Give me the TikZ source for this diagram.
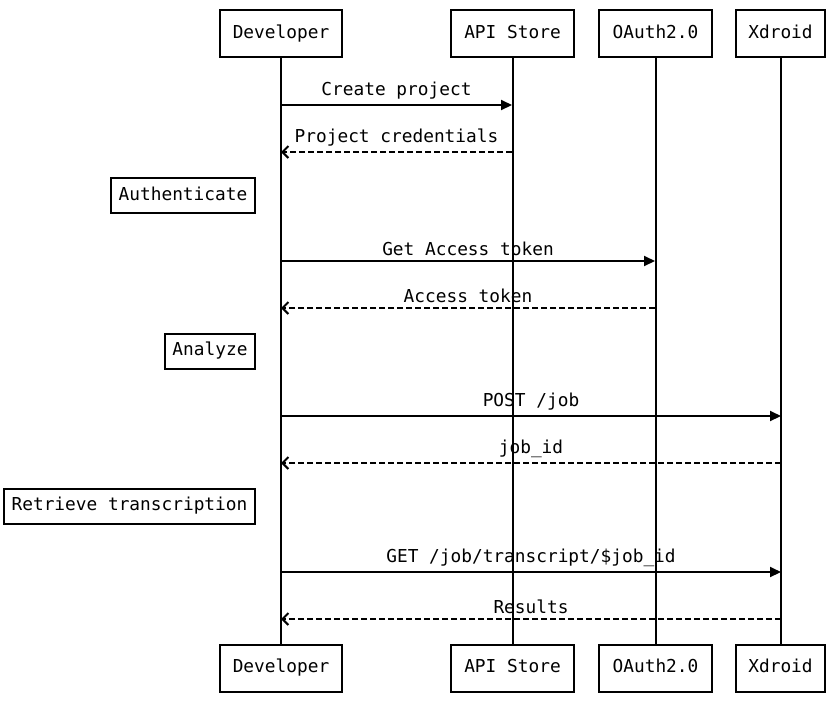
\documentclass[tikz,border=0pt]{standalone}
\usepackage{fontspec}
\setmonofont{DejaVu Sans Mono}
\usetikzlibrary{arrows.meta, positioning}

\tikzset{
  actor/.style={rectangle, draw, line width=2pt, minimum height=47pt, text height=12pt, text depth=3pt, font=\ttfamily\fontsize{17.8}{20}\selectfont},
  note/.style={rectangle, draw, line width=2pt, minimum height=35pt, text height=12pt, text depth=3pt, font=\ttfamily\fontsize{17.8}{20}\selectfont},
  lbl/.style={font=\ttfamily\fontsize{17.8}{20}\selectfont, above, inner sep=4.5pt},
  life/.style={line width=2pt},
  call/.style={line width=2pt, -{Triangle[length=11pt,width=10pt]}},
  reply/.style={line width=2pt, dash pattern=on 6pt off 3pt, -{Straight Barb[length=6pt,width=12pt]}}
}

\begin{document}
\begin{tikzpicture}[x=1pt, y=-1pt]
                \useasboundingbox (0,0) rectangle (837,702);
                % Participants
                \node (devT) [actor, minimum width=122pt] at (281,33.5) {Developer};
                \node (apiT) [actor, minimum width=123pt] at (512.5,33.5) {API Store};
                \node (oauT) [actor, minimum width=113pt] at (655.5,33.5) {OAuth2.0};
                \node (xdrT) [actor, minimum width=89pt] at (780.5,33.5) {Xdroid};
                \node (devB) [actor, minimum width=122pt] at (281,668) {Developer};
                \node (apiB) [actor, minimum width=123pt] at (512.5,668) {API Store};
                \node (oauB) [actor, minimum width=113pt] at (655.5,668) {OAuth2.0};
                \node (xdrB) [actor, minimum width=89pt] at (780.5,668) {Xdroid};

                % Lifelines
                \draw[life] (devT) -- (devB);
                \draw[life] (apiT) -- (apiB);
                \draw[life] (oauT) -- (oauB);
                \draw[life] (xdrT) -- (xdrB);

                % Notes
                \node (auth) [note, anchor=east, minimum width=144pt] at (256,195.5) {Authenticate};
                \node (anal) [note, anchor=east, minimum width=90pt] at (256,351) {Analyze};
                \node (retr) [note, anchor=east, minimum width=251pt] at (256,506) {Retrieve transcription};

                % Message points
                \coordinate (d1) at (281,105); \coordinate (a1) at (512,105);
                \coordinate (d2) at (281,152); \coordinate (a2) at (512,152);
                \coordinate (d3) at (281,261); \coordinate (o3) at (655,261);
                \coordinate (d4) at (281,308); \coordinate (o4) at (655,308);
                \coordinate (d5) at (281,416); \coordinate (x5) at (781,416);
                \coordinate (d6) at (281,463); \coordinate (x6) at (781,463);
                \coordinate (d7) at (281,572); \coordinate (x7) at (781,572);
                \coordinate (d8) at (281,619); \coordinate (x8) at (781,619);

                % Messages
                \draw[call] (d1) -- node[lbl] {Create project} (a1);
                \draw[reply] (a2) -- node[lbl] {Project credentials} (d2);
                \draw[call] (d3) -- node[lbl] {Get Access token} (o3);
                \draw[reply] (o4) -- node[lbl] {Access token} (d4);
                \draw[call] (d5) -- node[lbl] {POST /job} (x5);
                \draw[reply] (x6) -- node[lbl] {job\_id} (d6);
                \draw[call] (d7) -- node[lbl] {GET /job/transcript/\$job\_id} (x7);
                \draw[reply] (x8) -- node[lbl] {Results} (d8);
\end{tikzpicture}
\end{document}
